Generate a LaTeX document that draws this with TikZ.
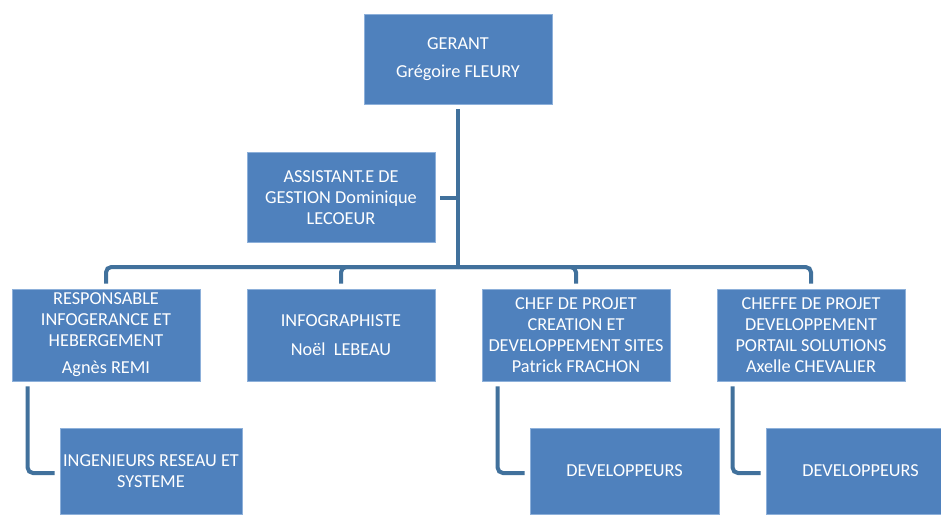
\documentclass[tikz,border=0pt]{standalone}
\usepackage{fontspec}
\setmainfont{Carlito}
\definecolor{boxfill}{HTML}{4F81BD}
\definecolor{boxedge}{HTML}{8DB0DA}
\definecolor{connc}{HTML}{41719C}
\begin{document}
\begin{tikzpicture}[x=0.75pt,y=-0.75pt,
  orgbox/.style={draw=boxedge, line width=0.6pt, fill=boxfill, text=white, align=center,
    inner sep=0pt, font=\fontsize{13.7}{15.6}\selectfont},
  wbox/.style={orgbox, minimum width=141pt, minimum height=68pt},
  conn/.style={draw=connc, line width=3pt, rounded corners=4pt}]
\useasboundingbox (0,0) rectangle (941,514);
\clip (0,0) rectangle (941,514);
\fill[white] (0,0) rectangle (941,514);

\node[wbox, minimum height=67.5pt] (ger) at (458,59) {GERANT\\[5pt]Grégoire FLEURY};
\node[wbox] (asst) at (341,197.5) {ASSISTANT.E DE\\GESTION Dominique\\LECOEUR};
\node[wbox, minimum height=69pt] (resp) at (106,335) {RESPONSABLE\\INFOGERANCE ET\\HEBERGEMENT\\[5pt]Agnès REMI};
\node[wbox, minimum height=69pt] (info) at (341,335) {INFOGRAPHISTE\\[6pt]Noël\ \ LEBEAU};
\node[wbox, minimum height=69pt] (chef) at (576,335) {CHEF DE PROJET\\CREATION ET\\DEVELOPPEMENT SITES\\Patrick FRACHON};
\node[wbox, minimum height=69pt] (cheffe) at (811,335) {CHEFFE DE PROJET\\DEVELOPPEMENT\\PORTAIL SOLUTIONS\\Axelle CHEVALIER};
\node[orgbox, minimum width=136.5pt, minimum height=64.5pt] (ir) at (151,471) {INGENIEURS RESEAU ET\\SYSTEME};
\node[orgbox, minimum width=141.75pt, minimum height=64.5pt] (dev1) at (624.5,471) {\raisebox{-2pt}{DEVELOPPEURS}};
\node[orgbox, minimum width=141.75pt, minimum height=64.5pt] (dev2) at (860.5,471) {\raisebox{-2pt}{DEVELOPPEURS}};

\coordinate (bus) at (458,267);
\draw[conn] ([yshift=-3.75pt]ger.south) -- (bus);
\draw[conn] ([xshift=3.75pt]asst.east) -- (asst.east -| bus);
\draw[conn] (bus) -| ([yshift=3.75pt]resp.north);
\draw[conn] (bus) -| ([yshift=3.75pt]info.north);
\draw[conn] (bus) -| ([yshift=3.75pt]chef.north);
\draw[conn] (bus) -| ([yshift=3.75pt]cheffe.north);
\draw[conn] ([xshift=12pt,yshift=-3.75pt]resp.south west) |- ([xshift=-3.75pt,yshift=-1.5pt]ir.west);
\draw[conn] ([xshift=12pt,yshift=-3.75pt]chef.south west) |- ([xshift=-3.75pt,yshift=-1.5pt]dev1.west);
\draw[conn] ([xshift=12pt,yshift=-3.75pt]cheffe.south west) |- ([xshift=-3.75pt,yshift=-1.5pt]dev2.west);
\end{tikzpicture}
\end{document}
